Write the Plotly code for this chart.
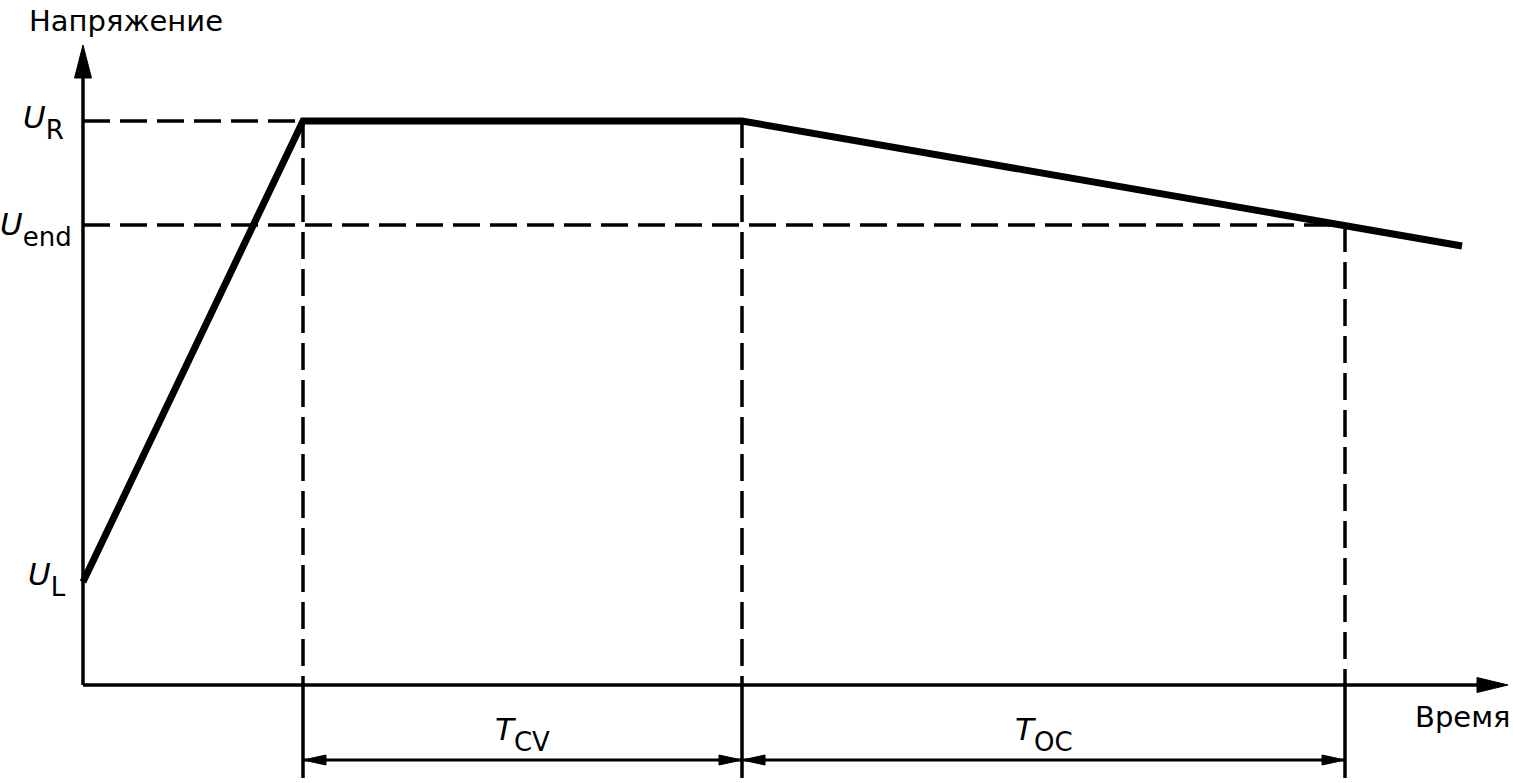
import plotly.graph_objects as go

# charge profile: time (px-like units) vs voltage
time = [0, 220, 659, 1262, 1379]
voltage = [103, 564, 564, 460, 439]

U_L, U_R, U_END = 103, 564, 460
T_RAMP, T_CV_END, T_OC_END = 220, 659, 1262

X_AXIS_END, Y_AXIS_END = 1425, 640
DIM_Y = -75          # level of the dimension arrows
EXT_BOTTOM = -93     # bottom of extension lines

FONT = "DejaVu Sans, Arial, sans-serif"
BLACK = "#000000"

fig = go.Figure()

# main voltage curve
fig.add_trace(go.Scatter(x=time, y=voltage, mode="lines",
                         line=dict(color=BLACK, width=7),
                         hoverinfo="skip", showlegend=False))

shapes = []


def line(x0, y0, x1, y1, width=3.5, dash="solid"):
    shapes.append(dict(type="line", xref="x", yref="y", x0=x0, y0=y0, x1=x1, y1=y1,
                       line=dict(color=BLACK, width=width, dash=dash)))


def head(tx, ty, dx, dy, length, half):
    # filled triangle, tip at (tx, ty), pointing in direction (dx, dy)
    bx, by = tx - dx * length, ty - dy * length
    px, py = -dy * half, dx * half
    path = f"M{tx},{ty} L{bx + px},{by + py} L{bx - px},{by - py} Z"
    shapes.append(dict(type="path", xref="x", yref="y", path=path,
                       fillcolor=BLACK, line=dict(color=BLACK, width=1)))


DASH = "27px,10px"

# axes
line(0, 0, 0, Y_AXIS_END - 25, width=3.5)
line(0, 0, X_AXIS_END - 25, 0, width=3.5)
head(0, Y_AXIS_END, 0, 1, 33, 8.5)
head(X_AXIS_END, 0, 1, 0, 31, 7.5)

# horizontal guide lines
line(0, U_R, T_RAMP, U_R, dash=DASH)
line(0, U_END, T_OC_END, U_END, dash=DASH)

# vertical guides: dashed above the axis, solid extension below
for tx, top in [(T_RAMP, U_R), (T_CV_END, U_R), (T_OC_END, U_END)]:
    line(tx, top, tx, 0, dash=DASH)
    line(tx, 0, tx, EXT_BOTTOM)

# dimension arrows
for a, b in [(T_RAMP, T_CV_END), (T_CV_END, T_OC_END)]:
    line(a, DIM_Y, b, DIM_Y, width=3)
    head(a, DIM_Y, -1, 0, 23, 5)
    head(b, DIM_Y, 1, 0, 23, 5)

annotations = []


def label(text, x, y, xanchor="center", yanchor="middle", size=30):
    annotations.append(dict(text=text, x=x, y=y, xref="x", yref="y", showarrow=False,
                            xanchor=xanchor, yanchor=yanchor,
                            font=dict(family=FONT, size=size, color=BLACK)))


def sub(main, s, size=26):
    # double <sub> drops the index lower, span keeps its size
    return f"<i>{main}</i><sub><sub><span style='font-size:{size}px'>{s}</span></sub></sub>"


label("Напряжение", -56, 664, xanchor="left", size=29)
label("Время", 1429, -32, xanchor="right", size=29)
label(sub("U", "R"), -17, U_R - 1, xanchor="right", size=31)
label(sub("U", "end"), -9, U_END - 4, xanchor="right", size=31)
label(sub("U", "L"), -15, U_L + 3, xanchor="right", size=31)
label(sub("T", "CV"), (T_RAMP + T_CV_END) / 2, DIM_Y + 26, size=31)
label(sub("T", "OC"), (T_CV_END + T_OC_END) / 2, DIM_Y + 26, size=31)

fig.update_layout(
    width=1513, height=783,
    margin=dict(l=0, r=0, t=0, b=0),
    paper_bgcolor="white", plot_bgcolor="white",
    xaxis=dict(range=[-83, 1430], visible=False, fixedrange=True),
    yaxis=dict(range=[-98, 685], visible=False, fixedrange=True),
    shapes=shapes, annotations=annotations,
    showlegend=False,
)

# drop the default body margin so the figure fills the window exactly
fig.write_html("out.html", config={"displayModeBar": False},
               post_script="document.body.style.margin='0';"
                           "document.body.style.overflow='hidden';")
